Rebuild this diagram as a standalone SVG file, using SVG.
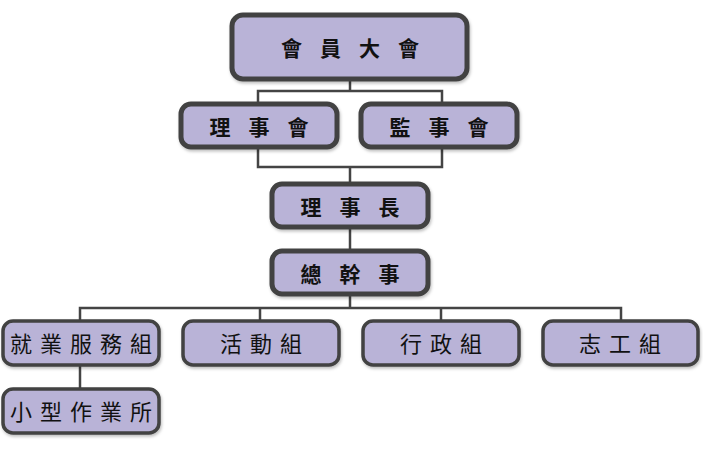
<svg xmlns="http://www.w3.org/2000/svg" width="703" height="454" viewBox="0 0 703 454">
<defs>
<filter id="sh" x="-10%" y="-10%" width="120%" height="130%">
<feDropShadow dx="1" dy="2" stdDeviation="1.5" flood-color="#000" flood-opacity="0.25"/>
</filter>
<style>
.box{fill:#b9b3d7;stroke:#424242;filter:url(#sh)}
.b1{stroke-width:5}
.b2{stroke-width:3.5}
.t{font-family:"Noto Sans CJK TC","Noto Sans CJK SC",sans-serif;fill:#111;text-anchor:middle;dominant-baseline:central}
.tb{font-size:21px;font-weight:bold;letter-spacing:18px}
.ts{font-size:22px;letter-spacing:8px}
.ln{fill:none;stroke:#444;stroke-width:2.5}
</style>
</defs>
<g id="connectors">
<path class="ln" d="M350 80 V91 M258 104 V91 H442 V104"/>
<path class="ln" d="M258 148 V167 H442 V148 M350 167 V183"/>
<path class="ln" d="M350 228 V250"/>
<path class="ln" d="M350 295 V308 M80 320 V308 H621 V320 M260 308 V320 M441 308 V320"/>
<path class="ln" d="M80 365 V388"/>
</g>
<g id="n1"><rect class="box b1" x="232" y="15" width="235" height="64" rx="11"/><text class="t tb" x="359" y="47">會員大會</text></g>
<g id="n2"><rect class="box b1" x="181" y="104" width="156" height="43" rx="10"/><text class="t tb" x="268" y="126">理事會</text></g>
<g id="n3"><rect class="box b1" x="361" y="104" width="156" height="43" rx="10"/><text class="t tb" x="448" y="126">監事會</text></g>
<g id="n4"><rect class="box b1" x="272" y="184" width="156" height="43" rx="10"/><text class="t tb" x="359" y="206">理事長</text></g>
<g id="n5"><rect class="box b1" x="272" y="251" width="156" height="43" rx="10"/><text class="t tb" x="359" y="273">總幹事</text></g>
<g id="n6"><rect class="box b2" x="3" y="321" width="156" height="44" rx="10"/><text class="t ts" x="85" y="342">就業服務組</text></g>
<g id="n7"><rect class="box b2" x="183" y="321" width="156" height="44" rx="10"/><text class="t ts" x="265" y="342">活動組</text></g>
<g id="n8"><rect class="box b2" x="363" y="321" width="156" height="44" rx="10"/><text class="t ts" x="445" y="342">行政組</text></g>
<g id="n9"><rect class="box b2" x="543" y="321" width="155" height="44" rx="10"/><text class="t ts" x="624" y="342">志工組</text></g>
<g id="n10"><rect class="box b2" x="3" y="389" width="156" height="44" rx="10"/><text class="t ts" x="85" y="410">小型作業所</text></g>
</svg>
